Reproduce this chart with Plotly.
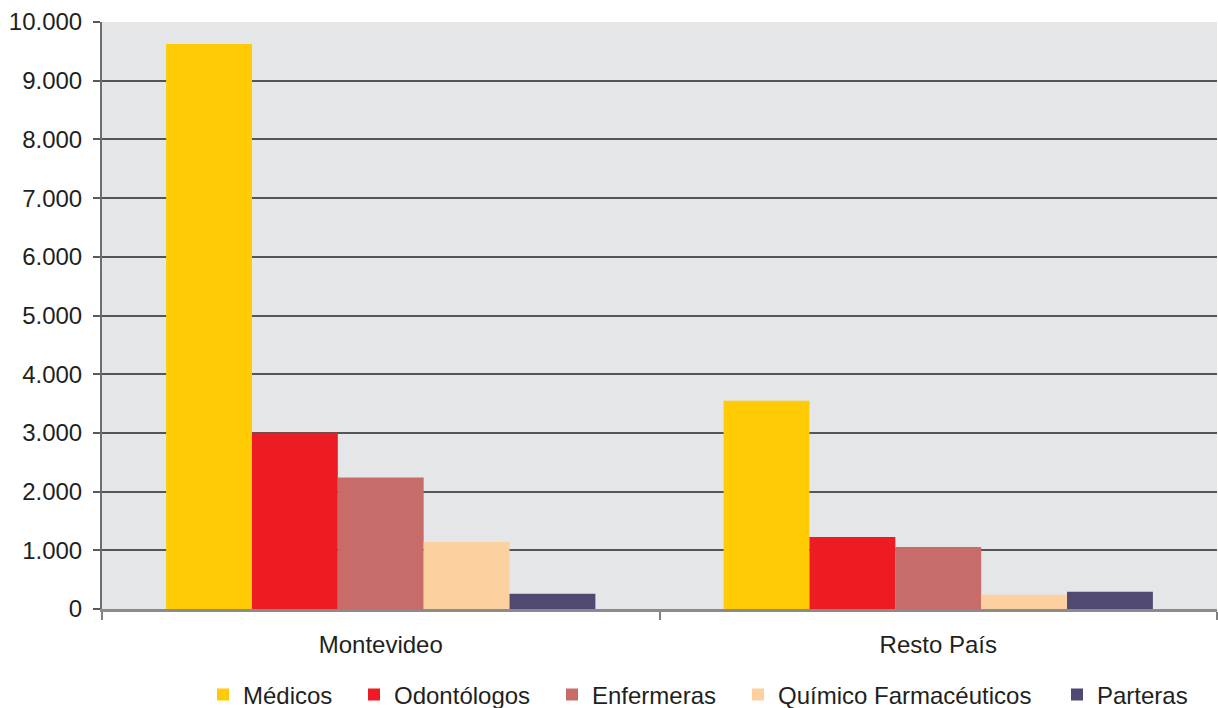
import plotly.graph_objects as go

categories = ["Montevideo", "Resto País"]
series_names = ["Médicos", "Odontólogos", "Enfermeras", "Químico Farmacéuticos", "Parteras"]
medicos = [9626, 3548]
odontologos = [3003, 1225]
enfermeras = [2242, 1056]
quimicos = [1141, 242]
parteras = [259, 293]
colors = ["#FFCB05", "#ED1C24", "#C86C6A", "#FDD09F", "#504A73"]
y_ticks = [0, 1000, 2000, 3000, 4000, 5000, 6000, 7000, 8000, 9000, 10000]

values = [medicos, odontologos, enfermeras, quimicos, parteras]

W, H = 1218, 708
# legend symbol centre positions (px from left) for each legend entry
legend_centers = [224, 375, 573, 759, 1078]
legend_y_px = 695

fig = go.Figure()
legend_ids = ["legend", "legend2", "legend3", "legend4", "legend5"]
for name, vals, col, lid in zip(series_names, values, colors, legend_ids):
    fig.add_trace(go.Bar(x=categories, y=vals, name=name, legend=lid,
                         marker=dict(color=col, line=dict(width=0))))

font_family = "Liberation Sans, Arial, sans-serif"
legend_layout = {}
for lid, cx in zip(legend_ids, legend_centers):
    legend_layout[lid] = dict(
        orientation="h",
        xref="container", yref="container",
        x=(cx - 21) / W, xanchor="left",
        y=(H - legend_y_px) / H, yanchor="middle",
        font=dict(size=24, color="#231F20", family=font_family),
        itemwidth=30,
        bgcolor="rgba(0,0,0,0)",
    )

fig.update_layout(
    width=W, height=H,
    margin=dict(l=102, r=1, t=22, b=99, autoexpand=False),
    paper_bgcolor="white",
    plot_bgcolor="#E5E6E8",
    barmode="group",
    bargap=0.23,
    bargroupgap=0,
    separators=",.",
    font=dict(family=font_family, size=24, color="#231F20"),
    showlegend=True,
    **legend_layout,
)
fig.update_yaxes(
    range=[0, 10000],
    tickvals=y_ticks,
    tickformat=",d",
    showgrid=True, gridcolor="#555558", gridwidth=1.8,
    showline=True, linecolor="#6D6E71", linewidth=2,
    ticks="outside", ticklen=7, tickcolor="#58595B", tickwidth=1.5,
    ticklabelstandoff=6,
    zeroline=False,
    automargin=False,
)
fig.update_xaxes(
    showline=True, linecolor="#8A8B8D", linewidth=2.5,
    ticks="outside", tickson="boundaries", ticklen=8, tickcolor="#808080", tickwidth=2,
    ticklabelstandoff=12,
    showgrid=False,
    automargin=False,
)

fig.write_html(
    "out.html",
    config={"displayModeBar": False},
    post_script="document.body.style.margin='0';document.body.style.overflow='hidden';",
)
